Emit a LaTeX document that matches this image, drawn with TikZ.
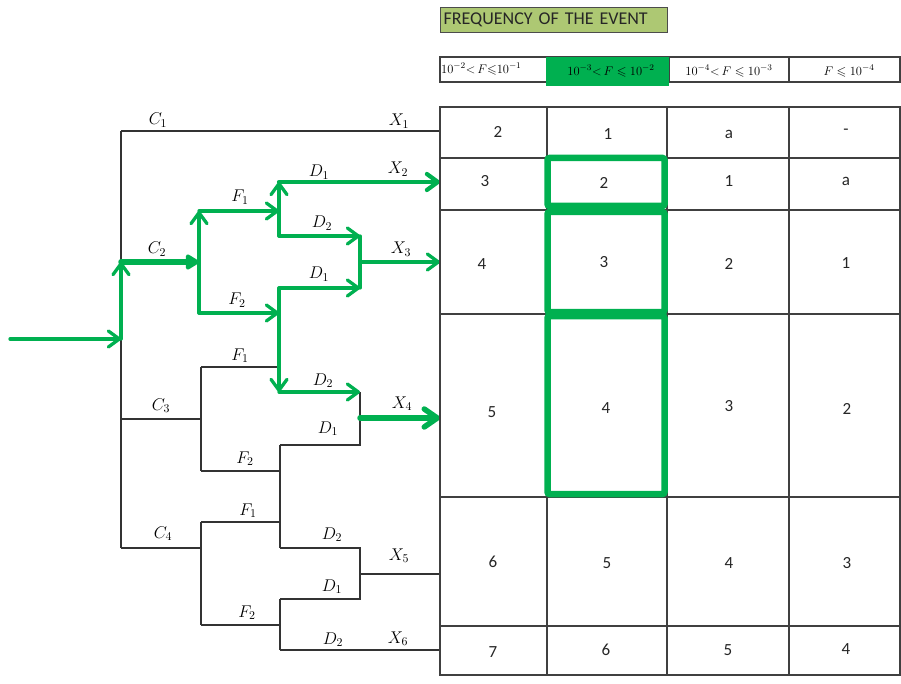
\RequirePackage{fix-cm}
\documentclass[tikz,border=0pt]{standalone}
\usepackage{amsmath}
\usepackage{amssymb}
\usepackage[no-math]{fontspec}
\setmainfont{Carlito}
\usepackage{xcolor}
\usepackage{tikz}
\usetikzlibrary{arrows.meta}
\definecolor{exgreen}{RGB}{0,176,80}
\definecolor{olivebox}{RGB}{173,200,115}

\begin{document}
\begin{tikzpicture}[x=1pt,y=-1pt,
  branch/.style={draw=black!80, line width=1.3pt},
  hot/.style={draw=exgreen, line width=3.3pt, line cap=round},
  go/.style={hot, -{Straight Barb[length=11pt,width=16pt,round]}},
  gobold/.style={hot, line width=5.5pt, -{Straight Barb[length=13pt,width=18pt,round]}},
  gofill/.style={hot, line width=5.5pt, -{Triangle[length=15pt,width=17pt,round]}},
  rule/.style={draw=black!75, line width=1.3pt},
  lbl/.style={font=\fontsize{17}{17}\selectfont, inner sep=0pt, anchor=base},
  num/.style={font=\fontsize{17}{17}\selectfont, text=black!85, inner sep=0pt},
  hdr/.style={font=\fontsize{12.5}{12.5}\selectfont, inner sep=0pt},
  pick/.style={draw=exgreen, line width=6.5pt, rounded corners=2pt}
]
\useasboundingbox (0,0) rectangle (901,684);

\coordinate (in) at (10,339);
\coordinate (c0) at (121,339);
\coordinate (t1) at (121,131);
\coordinate (t2) at (121,262);
\coordinate (t3) at (121,419);
\coordinate (t4) at (121,548);
\coordinate (x1) at (440,131);
\coordinate (a2) at (199,262);
\coordinate (a2u) at (199,211);
\coordinate (a2d) at (199,313);
\coordinate (b1) at (279,211);
\coordinate (b1u) at (279,182);
\coordinate (b1d) at (279,236);
\coordinate (x2) at (440,182);
\coordinate (e1) at (360,236);
\coordinate (e1m) at (360,262);
\coordinate (e1d) at (360,288);
\coordinate (x3) at (440,262);
\coordinate (b2) at (279,313);
\coordinate (b2u) at (279,288);
\coordinate (b2f) at (279,367);
\coordinate (b2d) at (279,392);
\coordinate (e2) at (360,392);
\coordinate (e2m) at (360,418);
\coordinate (e2d) at (360,445);
\coordinate (x4) at (440,418);
\coordinate (a3) at (201,419);
\coordinate (a3u) at (201,367);
\coordinate (a3d) at (201,471);
\coordinate (b3u) at (280,445);
\coordinate (b3) at (280,471);
\coordinate (b3f) at (280,522);
\coordinate (b3d) at (280,548);
\coordinate (a4) at (201,548);
\coordinate (a4u) at (201,522);
\coordinate (a4d) at (201,625);
\coordinate (b4u) at (280,599);
\coordinate (b4) at (280,625);
\coordinate (b4d) at (280,650);
\coordinate (e3) at (360,548);
\coordinate (e3m) at (360,574);
\coordinate (e3d) at (360,599);
\coordinate (x5) at (440,574);
\coordinate (x6) at (440,650);

\draw[branch] (t1) -- (t4) (t1) -- (x1);
\draw[branch] (t3) -- (a3) (a3u) -- (a3d) (a3u) -- (b2f) (a3d) -- (b3);
\draw[branch] (b3u) -- (b3d) (b3u) -- (e2d) -- (e2);
\draw[branch] (t4) -- (a4) (a4u) -- (a4d) (a4u) -- (b3f) (a4d) -- (b4);
\draw[branch] (b4u) -- (b4d) (b3d) -- (e3) -- (e3d) -- (b4u) (e3m) -- (x5) (b4d) -- (x6);

\draw[go] (in) -- (c0);
\draw[go] (c0) -- (t2);
\draw[gofill] (t2) -- (a2);
\draw[hot] (a2) -- (a2d);
\draw[go] (a2) -- (a2u);
\draw[go] (a2u) -- (b1);
\draw[go] (a2d) -- (b2);
\draw[hot] (b1) -- (b1d);
\draw[go] (b1) -- (b1u);
\draw[go, line width=4.2pt] (b1u) -- (x2);
\draw[go] (b1d) -- (e1);
\draw[hot] (e1) -- (e1d);
\draw[go] (e1m) -- (x3);
\draw[hot] (b2) -- (b2u);
\draw[go] (b2u) -- (e1d);
\draw[go] (b2) -- (b2d);
\draw[go] (b2d) -- (e2);
\draw[gobold] (e2m) -- (x4);

\node[lbl] (lc1) at (158,125) {$C_1$};
\node[lbl] (lx1) at (399,126) {$X_1$};
\node[lbl] (ld1a) at (319,177) {$D_1$};
\node[lbl] (lx2) at (398,174) {$X_2$};
\node[lbl] (lf1a) at (240,202) {$F_1$};
\node[lbl] (ld2a) at (322,228) {$D_2$};
\node[lbl] (lc2) at (157,254) {$C_2$};
\node[lbl] (lx3) at (401,254) {$X_3$};
\node[lbl] (ld1b) at (319,279) {$D_1$};
\node[lbl] (lf2a) at (237,305) {$F_2$};
\node[lbl] (lf1b) at (240,360) {$F_1$};
\node[lbl] (ld2b) at (323,385) {$D_2$};
\node[lbl] (lc3) at (161,410) {$C_3$};
\node[lbl] (lx4) at (402,408) {$X_4$};
\node[lbl] (ld1c) at (328,433) {$D_1$};
\node[lbl] (lf2b) at (245,463) {$F_2$};
\node[lbl] (lf1c) at (248,515) {$F_1$};
\node[lbl] (lc4) at (163,538) {$C_4$};
\node[lbl] (ld2c) at (332,539) {$D_2$};
\node[lbl] (lx5) at (399,560) {$X_5$};
\node[lbl] (ld1d) at (332,591) {$D_1$};
\node[lbl] (lf2c) at (247,617) {$F_2$};
\node[lbl] (ld2d) at (333,644) {$D_2$};
\node[lbl] (lx6) at (398,643) {$X_6$};

\node[draw=black!70, line width=1.3pt, fill=olivebox, anchor=north west, minimum height=25pt,
  text width=221pt, inner xsep=3pt, align=left, font=\fontsize{18}{18}\selectfont, text=black!85]
  (title) at (440,7) {FREQUENCY OF THE EVENT};

\draw[rule] (440,57) rectangle (900,82);
\draw[rule] (669,57) -- (669,82) (789,57) -- (789,82);
\fill[exgreen] (546,57) rectangle (669,86);
\node[hdr, anchor=west] (h1) at (441,69) {$10^{-2}{<}\,F{\leqslant}10^{-1}$};
\node[hdr] (h2) at (611,71) {$10^{-3}{<}\,F\leqslant 10^{-2}$};
\node[hdr] (h3) at (729,71) {$10^{-4}{<}\,F\leqslant 10^{-3}$};
\node[hdr] (h4) at (849,71) {$F\leqslant 10^{-4}$};

\draw[rule] (440,107) rectangle (900,675);
\foreach \y in {158,210,314,497,626}
  \draw[rule] (440,\y) -- (900,\y);
\foreach \x in {547,667,789}
  \draw[rule] (\x,107) -- (\x,675);

\foreach \x/\y/\v [count=\i] in {498/132/2, 608/134/1, 729/134/a, 846/132/-,
    485/181/3, 604/183/2, 729/181/1, 846/181/a,
    482/264/4, 604/262/3, 729/264/2, 846/263/1,
    492/412/5, 606/408/4, 729/406/3, 847/409/2,
    493/562/6, 607/563/5, 729/563/4, 847/563/3,
    493/652/7, 606/650/6, 728/650/5, 846/649/4}
  \node[num] (cell\i) at (\x,\y) {\v};

\draw[pick] (547.5,158) rectangle (664.5,206);
\draw[pick] (547.5,212) rectangle (664.5,312);
\draw[pick] (547.5,316) rectangle (664.5,494);
\end{tikzpicture}
\end{document}
